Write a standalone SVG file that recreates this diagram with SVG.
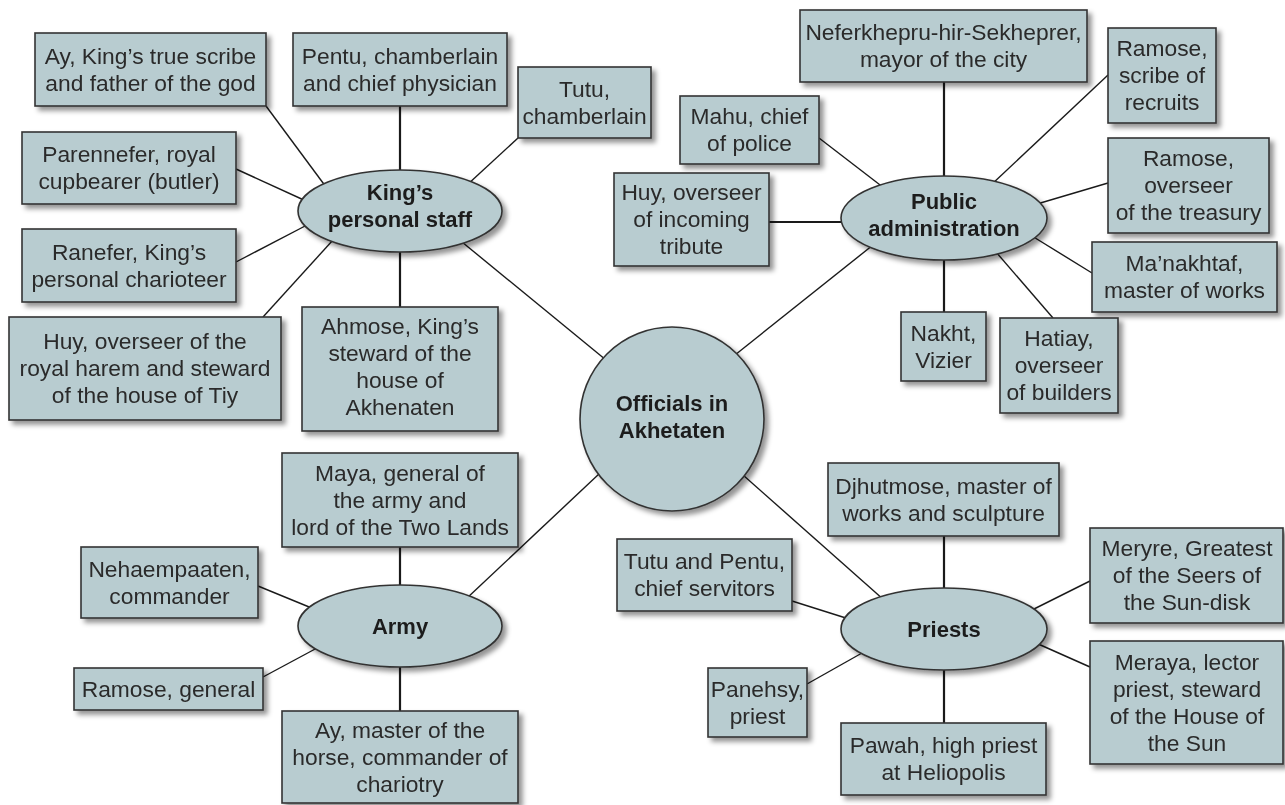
<svg xmlns="http://www.w3.org/2000/svg" width="1285" height="805" viewBox="0 0 1285 805">
  <style>
    .box { fill: #b8ccd0; stroke: #333; stroke-width: 1.6; }
    .hub { fill: #b8ccd0; stroke: #333; stroke-width: 1.6; }
    .t { font-family: "Liberation Sans", Arial, sans-serif; font-size: 22.8px; fill: #2b2b2b; text-anchor: middle; }
    .b { font-family: "Liberation Sans", Arial, sans-serif; font-size: 22px; font-weight: bold; fill: #1e1e1e; text-anchor: middle; }
    .link { stroke: #1a1a1a; stroke-width: 1.4; fill: none; }
    .v { stroke-width: 2.2; }
    .node { filter: url(#shadow); }
  </style>
  <defs>
    <filter id="shadow" x="-10%" y="-10%" width="130%" height="140%">
      <feDropShadow dx="4" dy="4" stdDeviation="2.5" flood-color="#000" flood-opacity="0.42"/>
    </filter>
  </defs>

  <rect width="1285" height="805" fill="#fff"/>

  <!-- connectors -->
  <g id="connectors">
    <!-- King's personal staff -->
    <line class="link" x1="266" y1="106" x2="326" y2="187"/>
    <line class="link v" x1="400" y1="106" x2="400" y2="174"/>
    <line class="link" x1="518" y1="138" x2="467" y2="185"/>
    <line class="link" x1="236" y1="169" x2="306" y2="201"/>
    <line class="link" x1="236" y1="262" x2="307" y2="225"/>
    <line class="link" x1="263" y1="317" x2="333" y2="240"/>
    <line class="link v" x1="400" y1="248" x2="400" y2="307"/>
    <line class="link" x1="462" y1="242" x2="606" y2="360"/>
    <!-- Public administration -->
    <line class="link v" x1="944" y1="82" x2="944" y2="180"/>
    <line class="link" x1="1108" y1="75" x2="991" y2="185"/>
    <line class="link" x1="819" y1="138" x2="884" y2="188"/>
    <line class="link v" x1="769" y1="222" x2="845" y2="222"/>
    <line class="link" x1="1108" y1="183" x2="1037" y2="204"/>
    <line class="link" x1="1092" y1="273" x2="1032" y2="236"/>
    <line class="link v" x1="944" y1="256" x2="944" y2="312"/>
    <line class="link" x1="1053" y1="318" x2="996" y2="252"/>
    <line class="link" x1="735" y1="355" x2="873" y2="245"/>
    <!-- Army -->
    <line class="link v" x1="400" y1="547" x2="400" y2="589"/>
    <line class="link" x1="258" y1="586" x2="314" y2="609"/>
    <line class="link" x1="263" y1="677" x2="317" y2="648"/>
    <line class="link v" x1="400" y1="663" x2="400" y2="711"/>
    <line class="link" x1="600" y1="473" x2="466" y2="599"/>
    <!-- Priests -->
    <line class="link v" x1="944" y1="536" x2="944" y2="592"/>
    <line class="link" x1="792" y1="601" x2="849" y2="619"/>
    <line class="link" x1="807" y1="684" x2="862" y2="653"/>
    <line class="link v" x1="944" y1="666" x2="944" y2="723"/>
    <line class="link" x1="1090" y1="581" x2="1030" y2="611"/>
    <line class="link" x1="1090" y1="667" x2="1036" y2="643"/>
    <line class="link" x1="743" y1="475" x2="884" y2="600"/>
  </g>

  <!-- centre -->
  <g id="officials" class="node">
    <circle class="hub" cx="672" cy="419" r="92"/>
    <text class="b"><tspan x="672" y="411">Officials in</tspan><tspan x="672" y="438">Akhetaten</tspan></text>
  </g>

  <!-- King's personal staff -->
  <g id="kings-staff" class="node">
    <ellipse class="hub" cx="400" cy="211" rx="102" ry="41"/>
    <text class="b"><tspan x="400" y="200">King’s</tspan><tspan x="400" y="227">personal staff</tspan></text>
  </g>
  <g id="ay-scribe" class="node">
    <rect class="box" x="35" y="33" width="231" height="73"/>
    <text class="t"><tspan x="150.5" y="63.5">Ay, King’s true scribe</tspan><tspan x="150.5" dy="27">and father of the god</tspan></text>
  </g>
  <g id="pentu" class="node">
    <rect class="box" x="293" y="33" width="214" height="73"/>
    <text class="t"><tspan x="400" y="63.5">Pentu, chamberlain</tspan><tspan x="400" dy="27">and chief physician</tspan></text>
  </g>
  <g id="tutu" class="node">
    <rect class="box" x="518" y="67" width="133" height="71"/>
    <text class="t"><tspan x="584.5" y="96.5">Tutu,</tspan><tspan x="584.5" dy="27">chamberlain</tspan></text>
  </g>
  <g id="parennefer" class="node">
    <rect class="box" x="22" y="132" width="214" height="72"/>
    <text class="t"><tspan x="129" y="162">Parennefer, royal</tspan><tspan x="129" dy="27">cupbearer (butler)</tspan></text>
  </g>
  <g id="ranefer" class="node">
    <rect class="box" x="22" y="229" width="214" height="73"/>
    <text class="t"><tspan x="129" y="259.5">Ranefer, King’s</tspan><tspan x="129" dy="27">personal charioteer</tspan></text>
  </g>
  <g id="huy-harem" class="node">
    <rect class="box" x="9" y="317" width="272" height="103"/>
    <text class="t"><tspan x="145" y="349">Huy, overseer of the</tspan><tspan x="145" dy="27">royal harem and steward</tspan><tspan x="145" dy="27">of the house of Tiy</tspan></text>
  </g>
  <g id="ahmose" class="node">
    <rect class="box" x="302" y="307" width="196" height="124"/>
    <text class="t"><tspan x="400" y="334">Ahmose, King’s</tspan><tspan x="400" dy="27">steward of the</tspan><tspan x="400" dy="27">house of</tspan><tspan x="400" dy="27">Akhenaten</tspan></text>
  </g>

  <!-- Public administration -->
  <g id="public-admin" class="node">
    <ellipse class="hub" cx="944" cy="218" rx="103" ry="42"/>
    <text class="b"><tspan x="944" y="209">Public</tspan><tspan x="944" y="236">administration</tspan></text>
  </g>
  <g id="neferkhepru" class="node">
    <rect class="box" x="800" y="10" width="287" height="72"/>
    <text class="t"><tspan x="943.5" y="40">Neferkhepru-hir-Sekheprer,</tspan><tspan x="943.5" dy="27">mayor of the city</tspan></text>
  </g>
  <g id="ramose-scribe" class="node">
    <rect class="box" x="1108" y="28" width="108" height="95"/>
    <text class="t"><tspan x="1162" y="56">Ramose,</tspan><tspan x="1162" dy="27">scribe of</tspan><tspan x="1162" dy="27">recruits</tspan></text>
  </g>
  <g id="mahu" class="node">
    <rect class="box" x="680" y="96" width="139" height="68"/>
    <text class="t"><tspan x="749.5" y="124">Mahu, chief</tspan><tspan x="749.5" dy="27">of police</tspan></text>
  </g>
  <g id="huy-tribute" class="node">
    <rect class="box" x="614" y="173" width="155" height="93"/>
    <text class="t"><tspan x="691.5" y="200">Huy, overseer</tspan><tspan x="691.5" dy="27">of incoming</tspan><tspan x="691.5" dy="27">tribute</tspan></text>
  </g>
  <g id="ramose-treasury" class="node">
    <rect class="box" x="1108" y="138" width="161" height="95"/>
    <text class="t"><tspan x="1188.5" y="166">Ramose,</tspan><tspan x="1188.5" dy="27">overseer</tspan><tspan x="1188.5" dy="27">of the treasury</tspan></text>
  </g>
  <g id="manakhtaf" class="node">
    <rect class="box" x="1092" y="242" width="185" height="70"/>
    <text class="t"><tspan x="1184.5" y="271">Ma’nakhtaf,</tspan><tspan x="1184.5" dy="27">master of works</tspan></text>
  </g>
  <g id="nakht" class="node">
    <rect class="box" x="901" y="312" width="85" height="69"/>
    <text class="t"><tspan x="943.5" y="340.5">Nakht,</tspan><tspan x="943.5" dy="27">Vizier</tspan></text>
  </g>
  <g id="hatiay" class="node">
    <rect class="box" x="1000" y="318" width="118" height="95"/>
    <text class="t"><tspan x="1059" y="346">Hatiay,</tspan><tspan x="1059" dy="27">overseer</tspan><tspan x="1059" dy="27">of builders</tspan></text>
  </g>

  <!-- Army -->
  <g id="army" class="node">
    <ellipse class="hub" cx="400" cy="626" rx="102" ry="41"/>
    <text class="b" x="400" y="634">Army</text>
  </g>
  <g id="maya" class="node">
    <rect class="box" x="282" y="453" width="236" height="94"/>
    <text class="t"><tspan x="400" y="480.5">Maya, general of</tspan><tspan x="400" dy="27">the army and</tspan><tspan x="400" dy="27">lord of the Two Lands</tspan></text>
  </g>
  <g id="nehaempaaten" class="node">
    <rect class="box" x="81" y="547" width="177" height="71"/>
    <text class="t"><tspan x="169.5" y="576.5">Nehaempaaten,</tspan><tspan x="169.5" dy="27">commander</tspan></text>
  </g>
  <g id="ramose-general" class="node">
    <rect class="box" x="74" y="668" width="189" height="42"/>
    <text class="t" x="168.5" y="696.5">Ramose, general</text>
  </g>
  <g id="ay-horse" class="node">
    <rect class="box" x="282" y="711" width="236" height="92"/>
    <text class="t"><tspan x="400" y="737.5">Ay, master of the</tspan><tspan x="400" dy="27">horse, commander of</tspan><tspan x="400" dy="27">chariotry</tspan></text>
  </g>

  <!-- Priests -->
  <g id="priests" class="node">
    <ellipse class="hub" cx="944" cy="629" rx="103" ry="41"/>
    <text class="b" x="944" y="637">Priests</text>
  </g>
  <g id="djhutmose" class="node">
    <rect class="box" x="828" y="463" width="231" height="73"/>
    <text class="t"><tspan x="943.5" y="493.5">Djhutmose, master of</tspan><tspan x="943.5" dy="27">works and sculpture</tspan></text>
  </g>
  <g id="tutu-pentu" class="node">
    <rect class="box" x="617" y="539" width="175" height="72"/>
    <text class="t"><tspan x="704.5" y="569">Tutu and Pentu,</tspan><tspan x="704.5" dy="27">chief servitors</tspan></text>
  </g>
  <g id="meryre" class="node">
    <rect class="box" x="1090" y="528" width="193" height="95"/>
    <text class="t"><tspan x="1187" y="556">Meryre, Greatest</tspan><tspan x="1187" dy="27">of the Seers of</tspan><tspan x="1187" dy="27">the Sun-disk</tspan></text>
  </g>
  <g id="meraya" class="node">
    <rect class="box" x="1090" y="641" width="193" height="123"/>
    <text class="t"><tspan x="1187" y="669.5">Meraya, lector</tspan><tspan x="1187" dy="27">priest, steward</tspan><tspan x="1187" dy="27">of the House of</tspan><tspan x="1187" dy="27">the Sun</tspan></text>
  </g>
  <g id="panehsy" class="node">
    <rect class="box" x="708" y="668" width="99" height="69"/>
    <text class="t"><tspan x="757.5" y="696.5">Panehsy,</tspan><tspan x="757.5" dy="27">priest</tspan></text>
  </g>
  <g id="pawah" class="node">
    <rect class="box" x="841" y="723" width="205" height="72"/>
    <text class="t"><tspan x="943.5" y="753">Pawah, high priest</tspan><tspan x="943.5" dy="27">at Heliopolis</tspan></text>
  </g>
</svg>
